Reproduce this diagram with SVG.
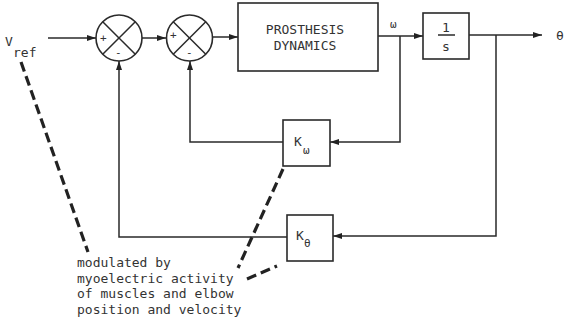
<svg xmlns="http://www.w3.org/2000/svg" width="568" height="324" viewBox="0 0 568 324">
  <style>
    .ln { fill: none; stroke: #2a2a2a; stroke-width: 1.5; }
    .box { fill: #fff; stroke: #2a2a2a; stroke-width: 1.6; }
    .dash { fill: none; stroke: #222; stroke-width: 3.2; stroke-dasharray: 10 5; }
    .t { font-family: "DejaVu Sans Mono", "Liberation Mono", monospace; font-size: 13px; fill: #333; }
    .s { font-family: "DejaVu Sans Mono", "Liberation Mono", monospace; font-size: 11px; fill: #333; }
  </style>
  <defs>
    <marker id="arr" markerWidth="10" markerHeight="8" refX="9" refY="4" orient="auto" markerUnits="userSpaceOnUse">
      <path d="M0,1 L9,4 L0,7 Z" fill="#222"/>
    </marker>
  </defs>
  <rect width="568" height="324" fill="#fff"/>

  <g id="connectors">
    <!-- forward path -->
    <line class="ln" x1="48" y1="38" x2="96" y2="38" marker-end="url(#arr)"/>
    <line class="ln" x1="142" y1="38" x2="166" y2="38" marker-end="url(#arr)"/>
    <line class="ln" x1="213" y1="37" x2="238" y2="37" marker-end="url(#arr)"/>
    <line class="ln" x1="378" y1="36" x2="423" y2="36" marker-end="url(#arr)"/>
    <line class="ln" x1="469" y1="35" x2="542" y2="35" marker-end="url(#arr)"/>
    <!-- velocity feedback -->
    <polyline class="ln" points="400,36 400,142 330,142" marker-end="url(#arr)"/>
    <polyline class="ln" points="283,142 190,142 190,61" marker-end="url(#arr)"/>
    <!-- position feedback -->
    <polyline class="ln" points="496,35 496,236 333,236" marker-end="url(#arr)"/>
    <polyline class="ln" points="287,237 119,237 119,61" marker-end="url(#arr)"/>
    <!-- modulation indicators -->
    <line class="dash" x1="21" y1="62" x2="88" y2="252"/>
    <line class="dash" x1="283" y1="169" x2="238" y2="268"/>
    <line class="dash" x1="247" y1="279" x2="277" y2="266"/>
  </g>

  <g id="vref">
    <text class="t" x="5" y="46">V</text>
    <text class="t" x="13" y="57">ref</text>
  </g>

  <g id="sum1">
    <circle class="box" cx="119" cy="38" r="23"/>
    <line class="ln" x1="102.7" y1="21.7" x2="135.3" y2="54.3"/>
    <line class="ln" x1="135.3" y1="21.7" x2="102.7" y2="54.3"/>
    <text class="s" x="100" y="42">+</text>
    <text class="s" x="115" y="56">-</text>
  </g>

  <g id="sum2">
    <circle class="box" cx="189.5" cy="38" r="23"/>
    <line class="ln" x1="173.2" y1="21.7" x2="205.8" y2="54.3"/>
    <line class="ln" x1="205.8" y1="21.7" x2="173.2" y2="54.3"/>
    <text class="s" x="170" y="39">+</text>
    <text class="s" x="186" y="56">-</text>
  </g>

  <g id="prosthesis">
    <rect class="box" x="238" y="3" width="140" height="68"/>
    <text class="t" x="305" y="34" text-anchor="middle">PROSTHESIS</text>
    <text class="t" x="305" y="50" text-anchor="middle">DYNAMICS</text>
  </g>

  <g id="omega-label">
    <text class="s" x="390" y="28">ω</text>
  </g>

  <g id="integrator">
    <rect class="box" x="423" y="13" width="46" height="46"/>
    <text class="t" x="446" y="32" text-anchor="middle">1</text>
    <line class="ln" x1="438" y1="35" x2="455" y2="35"/>
    <text class="t" x="446" y="51" text-anchor="middle">s</text>
  </g>

  <g id="theta-label">
    <text class="t" x="556" y="40">θ</text>
  </g>

  <g id="k-omega">
    <rect class="box" x="283" y="120" width="47" height="46"/>
    <text class="t" x="294" y="146">K</text>
    <text class="s" x="303" y="154">ω</text>
  </g>

  <g id="k-theta">
    <rect class="box" x="287" y="215" width="46" height="46"/>
    <text class="t" x="296" y="240">K</text>
    <text class="s" x="304" y="247">θ</text>
  </g>

  <g id="note">
    <text class="t" x="77" y="267">modulated by</text>
    <text class="t" x="77" y="283">myoelectric activity</text>
    <text class="t" x="77" y="298">of muscles and elbow</text>
    <text class="t" x="77" y="314">position and velocity</text>
  </g>
</svg>
